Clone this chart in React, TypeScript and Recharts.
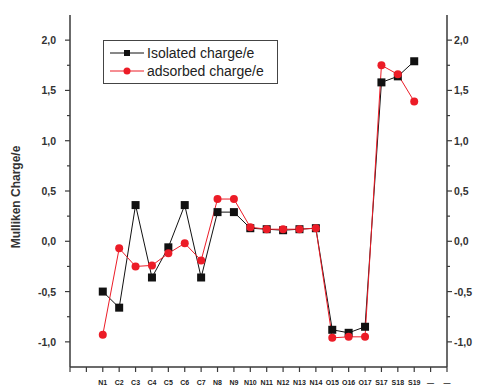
import React from 'react';
import { LineChart, Line, XAxis, YAxis } from 'recharts';

// atom labels along the x axis (first two slots are empty, last two are dashes)
const atoms = ['', '', 'N1', 'C2', 'C3', 'C4', 'C5', 'C6', 'C7', 'N8', 'N9', 'N10', 'N11', 'N12', 'N13', 'N14', 'O15', 'O16', 'O17', 'S17', 'S18', 'S19', '—', '—'];

// charges, starting at N1
const isolated = [-0.5, -0.66, 0.36, -0.36, -0.06, 0.36, -0.36, 0.29, 0.29, 0.13, 0.12, 0.11, 0.12, 0.13, -0.88, -0.91, -0.85, 1.58, 1.64, 1.79];
const adsorbed = [-0.93, -0.07, -0.25, -0.24, -0.12, -0.02, -0.19, 0.42, 0.42, 0.14, 0.12, 0.12, 0.12, 0.13, -0.96, -0.95, -0.95, 1.75, 1.66, 1.39];

const yTicks = [-1.25, -1, -0.75, -0.5, -0.25, 0, 0.25, 0.5, 0.75, 1, 1.25, 1.5, 1.75, 2, 2.25];
const xTicks = atoms.map((_, i) => i);

const data = atoms.map((name, i) => ({
  x: i,
  name,
  isolated: i >= 2 && i - 2 < isolated.length ? isolated[i - 2] : null,
  adsorbed: i >= 2 && i - 2 < adsorbed.length ? adsorbed[i - 2] : null,
}));

const AXIS = '#3a3a3a';
const FONT = '"Liberation Sans", Arial, sans-serif';

const fmt = (v: number) => v.toFixed(1).replace('.', ',');

const YTick: React.FC<any> = ({ x, y, payload, side }) => {
  const v = payload.value;
  const major = Math.abs(v * 2 - Math.round(v * 2)) < 1e-6;
  if (v <= -1.25 || v >= 2.25) return null;
  const left = side === 'left';
  const dir = left ? -1 : 1;
  const len = major ? 5 : 3;
  return (
    <g>
      <line x1={x} y1={y} x2={x + dir * len} y2={y} stroke={AXIS} strokeWidth={1.2} />
      {major && (
        <text
          x={x + dir * (left ? 14 : 7)}
          y={y}
          dy={4}
          textAnchor={left ? 'end' : 'start'}
          fontSize={10.5}
          fontWeight="bold"
          fontFamily={FONT}
          fill="#333"
        >
          {fmt(v)}
        </text>
      )}
    </g>
  );
};

const XTick: React.FC<any> = ({ x, y, payload }) => {
  const label = atoms[payload.value];
  return (
    <g>
      <line x1={x} y1={y} x2={x} y2={y + 5} stroke={AXIS} strokeWidth={1.2} />
      <text x={x} y={y + 18} textAnchor="middle" fontSize={7} fontWeight="bold" fontFamily={FONT} fill="#222">
        {label}
      </text>
    </g>
  );
};

const YLabel: React.FC<any> = () => (
  <text
    x={16}
    y={197}
    transform="rotate(-90, 16, 197)"
    dy={4}
    textAnchor="middle"
    fontSize={12}
    fontWeight="bold"
    fontFamily={FONT}
    fill="#333"
  >
    Mulliken Charge/e
  </text>
);

const SquareDot: React.FC<any> = ({ cx, cy, payload }) => {
  if (payload.isolated == null) return null;
  return <rect x={cx - 4} y={cy - 4} width={8} height={8} fill="#111" />;
};

const CircleDot: React.FC<any> = ({ cx, cy, payload }) => {
  if (payload.adsorbed == null) return null;
  return <circle cx={cx} cy={cy} r={4} fill="#ec1c27" />;
};

const legendItems = [
  { label: 'Isolated charge/e', color: '#111', square: true },
  { label: 'adsorbed charge/e', color: '#ec1c27', square: false },
];

const LegendBox: React.FC = () => (
  <div
    style={{
      position: 'absolute',
      left: 103,
      top: 40,
      width: 175,
      height: 44,
      border: '1px solid #444',
      background: '#fff',
      fontFamily: '"Liberation Sans Narrow", "Liberation Sans", Arial, sans-serif',
      fontSize: 14,
      color: '#222',
      boxSizing: 'border-box',
      padding: '3px 0 0 6px',
    }}
  >
    {legendItems.map((it) => (
      <div key={it.label} style={{ display: 'flex', alignItems: 'center', height: 18 }}>
        <svg width={34} height={12} style={{ marginRight: 3 }}>
          <line x1={0} y1={6} x2={34} y2={6} stroke={it.color} strokeWidth={1} />
          {it.square ? (
            <rect x={14} y={3} width={6} height={6} fill={it.color} />
          ) : (
            <circle cx={17} cy={6} r={3.5} fill={it.color} />
          )}
        </svg>
        <span>{it.label}</span>
      </div>
    ))}
  </div>
);

export default function App() {
  return (
    <div style={{ position: 'absolute', left: 0, top: 0, width: 478, height: 388, background: '#fff' }}>
      <LineChart width={478} height={388} data={data} margin={{ top: 15, right: 0, bottom: 0, left: 0 }}>
        <XAxis
          dataKey="x"
          type="number"
          domain={[0, 23]}
          ticks={xTicks}
          interval={0}
          height={21}
          tickLine={false}
          tickSize={0}
          tickMargin={0}
          tick={<XTick />}
          axisLine={{ stroke: AXIS, strokeWidth: 1.5 }}
        />
        <XAxis
          xAxisId="top"
          dataKey="x"
          type="number"
          domain={[0, 23]}
          orientation="top"
          height={0}
          tick={false}
          tickLine={false}
          axisLine={{ stroke: AXIS, strokeWidth: 1.5 }}
        />
        <YAxis
          yAxisId="left"
          domain={[-1.25, 2.25]}
          ticks={yTicks}
          interval={0}
          width={70}
          tickLine={false}
          tickSize={0}
          tickMargin={0}
          tick={<YTick side="left" />}
          axisLine={{ stroke: AXIS, strokeWidth: 1.5 }}
          label={{ content: <YLabel /> }}
        />
        <YAxis
          yAxisId="right"
          orientation="right"
          domain={[-1.25, 2.25]}
          ticks={yTicks}
          interval={0}
          width={31}
          tickLine={false}
          tickSize={0}
          tickMargin={0}
          tick={<YTick side="right" />}
          axisLine={{ stroke: AXIS, strokeWidth: 1.5 }}
        />
        <Line
          yAxisId="left"
          dataKey="isolated"
          name="Isolated charge/e"
          stroke="#111"
          strokeWidth={1}
          dot={<SquareDot />}
          activeDot={false}
          connectNulls={false}
          isAnimationActive={false}
        />
        <Line
          yAxisId="right"
          dataKey="adsorbed"
          name="adsorbed charge/e"
          stroke="#ec1c27"
          strokeWidth={1}
          dot={<CircleDot />}
          activeDot={false}
          connectNulls={false}
          isAnimationActive={false}
        />
      </LineChart>
      <LegendBox />
    </div>
  );
}
